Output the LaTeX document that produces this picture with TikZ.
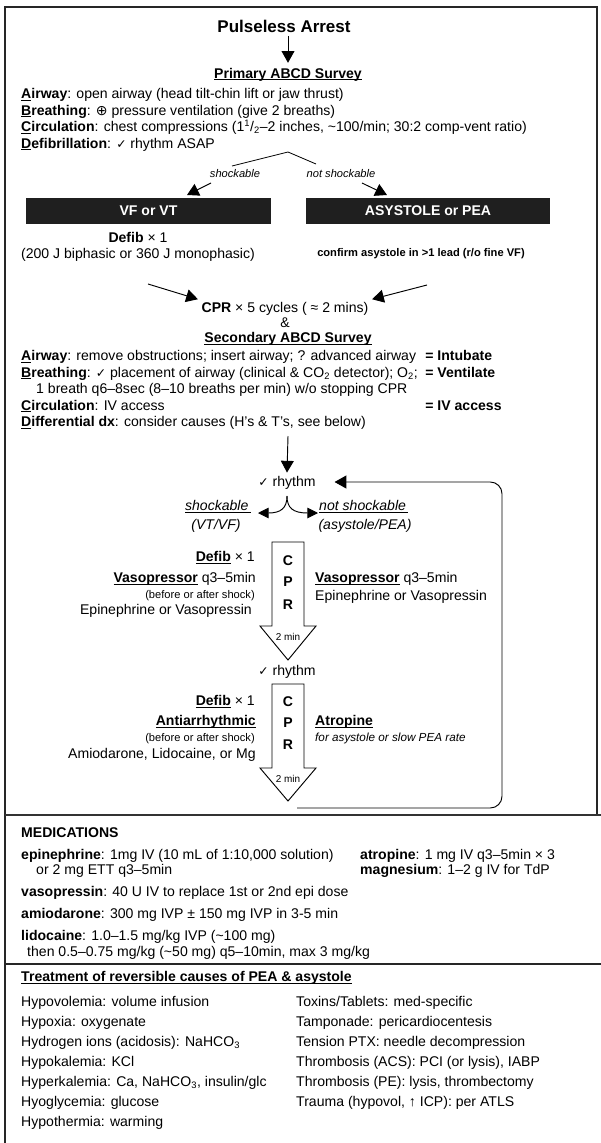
\documentclass[tikz,border=0pt]{standalone}
\usepackage{fontspec}
\setmainfont{Liberation Sans}
\newfontfamily\symfont{DejaVu Sans}
\usetikzlibrary{arrows.meta,positioning,calc}
\newcommand{\chk}{{\symfont\fontsize{10.5}{10}\selectfont ✓}}
\newcommand{\posp}{{\symfont ⊕}}
\newcommand{\undl}[1]{\underline{\smash{#1}}}

\begin{document}
\begin{tikzpicture}[
  x=0.03cm, y=-0.03cm,
  txt/.style={inner sep=0pt, font=\fontsize{12}{14}\selectfont},
  ltxt/.style={txt, anchor=base west},
  rtxt/.style={txt, anchor=base east},
  ctxt/.style={txt, anchor=base},
  smalltxt/.style={font=\fontsize{9.5}{11}\selectfont},
  bigarrow/.style={line width=0.8pt, -{Triangle[length=10pt, width=11pt]}},
  smallarrow/.style={line width=0.8pt, -{Triangle[length=9pt, width=9pt]}},
  darkbox/.style={fill=black!88, text=white, font=\bfseries\fontsize{12}{14}\selectfont, minimum height=0.78cm, inner sep=0pt},
  cprshape/.style={draw, line width=0.8pt, fill=white},
  frameline/.style={line width=1pt, draw=black!85},
  sepline/.style={line width=1.4pt, draw=black!80}
]

  \useasboundingbox (0,0) rectangle (601,1143);

  % Frame and separators
  \draw[frameline] (5,1143) -- (5,7) -- (597,7) -- (597,815);
  \draw[sepline] (5,815) -- (601,815);
  \draw[frameline] (5,964) -- (601,964);

  % Title
  \node[ctxt, font=\bfseries\fontsize{14.5}{16}\selectfont] (arrest) at (284,32) {Pulseless Arrest};
  \node[ctxt, font=\bfseries\fontsize{12}{14}\selectfont] (primary) at (288,78) {\undl{Primary ABCD Survey}};
  \draw[bigarrow] ([yshift=-3pt]arrest.south -| primary.base) -- ([yshift=13pt]primary.base);

  % Primary survey
  \node[ltxt] (pa) at (21,98.5) {\textbf{\undl{A}irway}: open airway (head tilt-chin lift or jaw thrust)};
  \node[ltxt] (pb) at (21,115) {\textbf{\undl{B}reathing}: \posp{} pressure ventilation (give 2 breaths)};
  \node[ltxt] (pc) at (21,131.5) {\textbf{\undl{C}irculation}: chest compressions (1\textsuperscript{1}/\textsubscript{2}–2 inches, \textasciitilde100/min; 30:2 comp-vent ratio)};
  \node[ltxt] (pd) at (21,148) {\textbf{\undl{D}efibrillation}: \chk{} rhythm ASAP};

  % Fork
  \coordinate (fork) at (288,152);
  \draw[line width=0.7pt] (232,166) -- (fork) -- (316,164);
  \node[ctxt, smalltxt] (shock1) at (235,177) {\textit{shockable}};
  \node[ctxt, smalltxt] (noshock1) at (341,177) {\textit{not shockable}};
  \coordinate (shk) at (211,183);
  \coordinate (shktip) at (187,195);
  \coordinate (nshk) at (362,183);
  \coordinate (nshktip) at (387,195);
  \draw[bigarrow] (shk) -- (shktip);
  \draw[bigarrow] (nshk) -- (nshktip);

  % Rhythm boxes
  \node[darkbox, minimum width=7.35cm] (vfvt) at (148.5,211) {VF or VT};
  \node[darkbox, minimum width=7.32cm] (asys) at (428,211) {ASYSTOLE or PEA};

  \node[ctxt] (defib1) at (138,242.5) {\textbf{Defib} × 1};
  \node[ctxt] (joules) at (138,258.5) {(200 J biphasic or 360 J monophasic)};
  \node[ctxt, font=\bfseries\fontsize{9.5}{11}\selectfont] (confirm) at (421,256) {confirm asystole in >1 lead (r/o fine VF)};

  % CPR x 5
  \node[ctxt] (cpr5) at (285,312) {\textbf{CPR} × 5 cycles ( ≈ 2 mins)};
  \node[ctxt] (amp) at (285,327) {\&};
  \coordinate (vftail) at (148,284);
  \coordinate (asytail) at (427,285);
  \draw[bigarrow] (vftail) -- ([xshift=-3pt,yshift=2pt]cpr5.north west);
  \draw[bigarrow] (asytail) -- ([xshift=3pt,yshift=2pt]cpr5.north east);

  % Secondary survey
  \node[ctxt, font=\bfseries\fontsize{12}{14}\selectfont] (secondary) at (288,342.5) {\undl{Secondary ABCD Survey}};
  \node[ltxt] (sa) at (21,360.5) {\textbf{\undl{A}irway}: remove obstructions; insert airway; ? advanced airway};
  \node[ltxt] (sb) at (21,377) {\textbf{\undl{B}reathing}: \chk{} placement of airway (clinical \& CO\textsubscript{2} detector); O\textsubscript{2};};
  \node[ltxt] (sb2) at (36,393.5) {1 breath q6–8sec (8–10 breaths per min) w/o stopping CPR};
  \node[ltxt] (sc) at (21,410) {\textbf{\undl{C}irculation}: IV access};
  \node[ltxt] (sd) at (21,426.5) {\textbf{\undl{D}ifferential dx}: consider causes (H’s \& T’s, see below)};
  \coordinate (rcol) at ($(sb.base east)+(7,0)$);
  \node[ltxt, font=\bfseries\fontsize{12}{14}\selectfont] (intub) at (rcol |- sa.base) {= Intubate};
  \node[ltxt, font=\bfseries\fontsize{12}{14}\selectfont] (ventil) at (rcol |- sb.base) {= Ventilate};
  \node[ltxt, font=\bfseries\fontsize{12}{14}\selectfont] (ivacc) at (rcol |- sc.base) {= IV access};

  % Rhythm check 1
  \node[ctxt] (rhythm1) at (287,486.5) {\chk{} rhythm};
  \coordinate (secdown) at (288,436);
  \draw[bigarrow] (secdown) -- ([yshift=3pt]rhythm1.north);

  \coordinate (split) at (287,496);
  \draw[smallarrow] (split) .. controls (287,508) and (281,513) .. (258,513);
  \draw[smallarrow] (split) .. controls (287,508) and (293,513) .. (318,513);
  \node[rtxt] (shock2) at (251,510.5) {\undl{\textit{shockable}\,}};
  \node[ctxt] (vtvf) at (216,529.5) {\textit{(VT/VF)}};
  \node[ltxt] (noshock2) at (319,510.5) {\undl{\textit{not shockable}\,}};
  \node[ctxt] (asypea) at (365,529.5) {\textit{(asystole/PEA)}};

  % CPR arrow 1
  \draw[cprshape] (272,542) -- (304,542) -- (304,626) -- (316,626) -- (288,660)
    -- (260,626) -- (272,626) -- cycle;
  \node[ctxt, font=\bfseries\fontsize{12}{14}\selectfont] (c1) at (288,565.5) {C};
  \node[ctxt, font=\bfseries\fontsize{12}{14}\selectfont] (p1) at (288,586.5) {P};
  \node[ctxt, font=\bfseries\fontsize{12}{14}\selectfont] (r1) at (288,609.5) {R};
  \node[ctxt, font=\fontsize{8.5}{10}\selectfont] (min1) at (288,640.5) {2 min};

  \node[rtxt] (defib2) at (255,561.5) {\textbf{\undl{Defib}} × 1};
  \node[rtxt] (vaso1) at (256,582.5) {\textbf{\undl{Vasopressor}} q3–5min};
  \node[rtxt, smalltxt] (before1) at (255,598) {(before or after shock)};
  \node[rtxt] (epi1) at (252,614.5) {Epinephrine or Vasopressin};
  \node[ltxt] (vaso2) at (315,582.5) {\textbf{\undl{Vasopressor}} q3–5min};
  \node[ltxt] (epi2) at (315,600.5) {Epinephrine or Vasopressin};

  % Rhythm check 2
  \node[ctxt] (rhythm2) at (287,675.5) {\chk{} rhythm};

  % CPR arrow 2
  \draw[cprshape] (272,684) -- (304,684) -- (304,768) -- (316,768) -- (288,801)
    -- (260,768) -- (272,768) -- cycle;
  \node[ctxt, font=\bfseries\fontsize{12}{14}\selectfont] (c2) at (288,706.5) {C};
  \node[ctxt, font=\bfseries\fontsize{12}{14}\selectfont] (p2) at (288,727.5) {P};
  \node[ctxt, font=\bfseries\fontsize{12}{14}\selectfont] (r2) at (288,749.5) {R};
  \node[ctxt, font=\fontsize{8.5}{10}\selectfont] (min2) at (288,782) {2 min};

  \node[rtxt] (defib3) at (255,705.5) {\textbf{\undl{Defib}} × 1};
  \node[rtxt] (antiarr) at (256,725.5) {\textbf{\undl{Antiarrhythmic}}};
  \node[rtxt, smalltxt] (before2) at (255,741) {(before or after shock)};
  \node[rtxt] (amio1) at (256,758.5) {Amiodarone, Lidocaine, or Mg};
  \node[ltxt] (atrop1) at (315,725.5) {\textbf{\undl{Atropine}}};
  \node[ltxt, font=\itshape\fontsize{10}{12}\selectfont] (slowpea) at (315,741) {for asystole or slow PEA rate};

  % Loop back
  \coordinate (loopstart) at (297,808);
  \draw[bigarrow, rounded corners=10pt] (loopstart) -- (502,808) -- (502,482)
    -- ([xshift=16pt]rhythm1.east |- 0,482);

  % Medications
  \node[ltxt, font=\bfseries\fontsize{12}{14}\selectfont] (meds) at (21,837) {MEDICATIONS};
  \node[ltxt] (epi) at (21,859) {\textbf{epinephrine}: 1mg IV (10 mL of 1:10,000 solution)};
  \node[ltxt] (epiett) at (36,874.5) {or 2 mg ETT q3–5min};
  \node[ltxt] (vaso) at (21,896) {\textbf{vasopressin}: 40 U IV to replace 1st or 2nd epi dose};
  \node[ltxt] (amio) at (21,918.5) {\textbf{amiodarone}: 300 mg IVP ± 150 mg IVP in 3-5 min};
  \node[ltxt] (lido) at (21,940) {\textbf{lidocaine}: 1.0–1.5 mg/kg IVP (\textasciitilde100 mg)};
  \node[ltxt] (lido2) at (27,956) {then 0.5–0.75 mg/kg (\textasciitilde50 mg) q5–10min, max 3 mg/kg};
  \node[ltxt] (atrop) at (360,859) {\textbf{atropine}: 1 mg IV q3–5min × 3};
  \node[ltxt] (magn) at (360,874.5) {\textbf{magnesium}: 1–2 g IV for TdP};

  % Reversible causes
  \node[ltxt, font=\bfseries\fontsize{12}{14}\selectfont] (causes) at (21,981.5) {\undl{Treatment of reversible causes of PEA \& asystole}};
  \node[ltxt] (h1) at (21,1006.5) {Hypovolemia: volume infusion};
  \node[ltxt] (h2) at (21,1026.5) {Hypoxia: oxygenate};
  \node[ltxt] (h3) at (21,1046.5) {Hydrogen ions (acidosis): NaHCO\textsubscript{3}};
  \node[ltxt] (h4) at (21,1066.5) {Hypokalemia: KCl};
  \node[ltxt] (h5) at (21,1086.5) {Hyperkalemia: Ca, NaHCO\textsubscript{3}, insulin/glc};
  \node[ltxt] (h6) at (21,1106.5) {Hyoglycemia: glucose};
  \node[ltxt] (h7) at (21,1126.5) {Hypothermia: warming};
  \node[ltxt] (t1) at (296,1006.5) {Toxins/Tablets: med-specific};
  \node[ltxt] (t2) at (296,1026.5) {Tamponade: pericardiocentesis};
  \node[ltxt] (t3) at (296,1046.5) {Tension PTX: needle decompression};
  \node[ltxt] (t4) at (296,1066.5) {Thrombosis (ACS): PCI (or lysis), IABP};
  \node[ltxt] (t5) at (296,1086.5) {Thrombosis (PE): lysis, thrombectomy};
  \node[ltxt] (t6) at (296,1106.5) {Trauma (hypovol, ↑ ICP): per ATLS};

\end{tikzpicture}
\end{document}
